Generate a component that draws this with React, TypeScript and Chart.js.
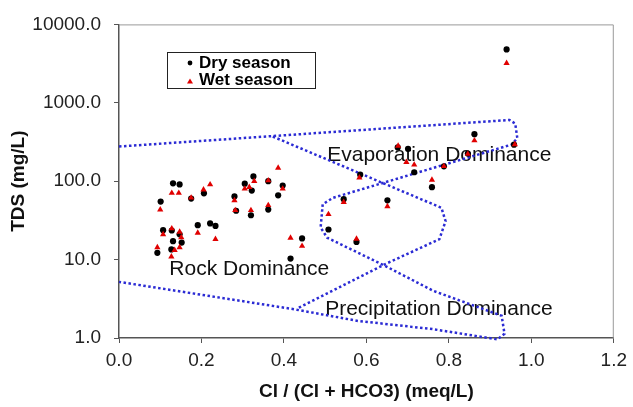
import React, { useEffect, useRef } from "react";
import { Chart, registerables } from "chart.js";

Chart.register(...registerables);

const FONT = "'Liberation Sans', Arial, Helvetica, sans-serif";

// Dry season samples: Cl/(Cl+HCO3) and TDS (mg/L)
const dryRatio = [0.093, 0.101, 0.107, 0.131, 0.147, 0.131, 0.127, 0.128, 0.147, 0.152, 0.175, 0.191, 0.206, 0.221, 0.234, 0.28, 0.284, 0.305, 0.32, 0.326, 0.322, 0.362, 0.362, 0.386, 0.397, 0.416, 0.444, 0.508, 0.545, 0.576, 0.585, 0.651, 0.676, 0.701, 0.716, 0.759, 0.788, 0.846, 0.862, 0.958, 0.94];
const dryTDS = [12.2, 55, 23.7, 94, 91, 17.2, 13.5, 23.5, 21, 16.5, 60, 27.5, 70, 28.9, 26.9, 64, 42, 93, 36.8, 115, 76, 100, 43.5, 66, 88, 10.3, 18.6, 24.2, 59, 16.8, 121, 57, 270, 259, 130, 84, 155, 225, 398, 292, 4800];

// Wet season samples
const wetRatio = [0.093, 0.1, 0.107, 0.128, 0.128, 0.145, 0.147, 0.151, 0.147, 0.135, 0.127, 0.175, 0.191, 0.205, 0.221, 0.234, 0.28, 0.282, 0.305, 0.316, 0.32, 0.328, 0.362, 0.362, 0.386, 0.397, 0.416, 0.444, 0.508, 0.545, 0.576, 0.583, 0.651, 0.677, 0.697, 0.716, 0.759, 0.788, 0.846, 0.862, 0.96, 0.94];
const wetTDS = [14.3, 43.4, 21, 24.9, 70.6, 70.6, 22.6, 19.2, 14.3, 13.2, 10.9, 61.5, 21.9, 78, 90.6, 18.2, 57, 42.6, 80, 84, 42.6, 100, 102, 49.3, 148, 80, 18.9, 14.9, 37.9, 54, 18.4, 111, 47.8, 282, 175, 162, 104, 155, 222, 330, 295, 3200];

// Gibbs boundary (outer envelope) and inner boundary
const outerX = [0, 0.947, 0.961, 0.966, 0.952, 0.519, 0.494, 0.489, 0.505, 0.646, 0.762, 0.928, 0.935, 0.918, 0.76, 0.58, 0.424, 0];
const outerY = [277, 604, 542, 354, 293, 61.4, 50.8, 25.6, 19.0, 8.28, 4.0, 1.92, 1.13, 0.96, 1.3, 1.65, 2.33, 5.2];
const innerX = [0.373, 0.782, 0.792, 0.777, 0.646, 0.431];
const innerY = [371, 45.8, 30.9, 18.2, 8.78, 2.36];

const yTicks = [1, 10, 100, 1000, 10000];
const xMin = 0;
const xMax = 1.2;
const xStep = 0.2;

const zoneLabels = ["Evaporation Dominance", "Rock Dominance", "Precipitation Dominance"];
const zoneLabelX = [0.505, 0.122, 0.5];
const zoneLabelY = [213, 7.5, 2.36];

const seriesNames = ["Dry season", "Wet season"];

const toPts = (xs: number[], ys: number[]) => xs.map((x, i) => ({ x, y: ys[i] }));

export default function App() {
  const ref = useRef<HTMLCanvasElement>(null);

  useEffect(() => {
    document.body.style.margin = "0";
    const canvas = ref.current!;

    const decor = {
      id: "decor",
      beforeDatasetsDraw(chart: any) {
        const { ctx, chartArea: a } = chart;
        ctx.save();
        ctx.strokeStyle = "#9a9a9a";
        ctx.lineWidth = 1;
        ctx.beginPath();
        ctx.moveTo(a.left, a.top + 0.5);
        ctx.lineTo(a.right - 0.5, a.top + 0.5);
        ctx.lineTo(a.right - 0.5, a.bottom);
        ctx.stroke();
        const xs = chart.scales.x;
        const ys = chart.scales.y;
        ctx.font = `21px ${FONT}`;
        ctx.fillStyle = "#111";
        ctx.textAlign = "left";
        ctx.textBaseline = "middle";
        zoneLabels.forEach((t, i) => {
          ctx.fillText(t, xs.getPixelForValue(zoneLabelX[i]), ys.getPixelForValue(zoneLabelY[i]));
        });
        ctx.restore();
      },
      afterDraw(chart: any) {
        const { ctx } = chart;
        ctx.save();
        // legend box
        ctx.fillStyle = "#fff";
        ctx.fillRect(167.5, 52.5, 148, 36);
        ctx.strokeStyle = "#222";
        ctx.lineWidth = 1;
        ctx.strokeRect(167.5, 52.5, 148, 36);
        // markers
        ctx.fillStyle = "#000";
        ctx.beginPath();
        ctx.arc(190, 63, 2.4, 0, Math.PI * 2);
        ctx.fill();
        ctx.fillStyle = "#e00000";
        ctx.beginPath();
        ctx.moveTo(190, 78.5);
        ctx.lineTo(193, 83.5);
        ctx.lineTo(187, 83.5);
        ctx.closePath();
        ctx.fill();
        ctx.fillStyle = "#000";
        ctx.font = `bold 17px ${FONT}`;
        ctx.textAlign = "left";
        ctx.textBaseline = "middle";
        ctx.fillText(seriesNames[0], 199, 63);
        ctx.fillText(seriesNames[1], 199, 80);
        ctx.restore();
      },
    };

    const lineStyle = {
      showLine: true,
      pointRadius: 0,
      borderColor: "#2b2bd4",
      borderWidth: 2.5,
      borderDash: [2.5, 2.5],
      fill: false,
      tension: 0,
      clip: false as any,
      order: 3,
    };

    const chart = new Chart(canvas, {
      type: "scatter",
      data: {
        datasets: [
          {
            label: seriesNames[1],
            data: toPts(wetRatio, wetTDS),
            pointStyle: "triangle",
            pointRadius: 3.6,
            backgroundColor: "#e00000",
            borderColor: "#e00000",
            borderWidth: 0,
            order: 1,
          },
          {
            label: seriesNames[0],
            data: toPts(dryRatio, dryTDS),
            pointStyle: "circle",
            pointRadius: 3.1,
            backgroundColor: "#000",
            borderColor: "#000",
            borderWidth: 0,
            order: 2,
          },
          { label: "outer", data: toPts(outerX, outerY), ...lineStyle } as any,
          { label: "inner", data: toPts(innerX, innerY), ...lineStyle } as any,
        ],
      },
      options: {
        responsive: false,
        animation: false,
        devicePixelRatio: 1,
        layout: { padding: { top: 23, right: 16, left: 0, bottom: 0 } },
        plugins: {
          legend: { display: false },
          tooltip: { enabled: false },
        },
        scales: {
          x: {
            type: "linear",
            min: xMin,
            max: xMax,
            afterFit: (s: any) => {
              s.height = 69;
            },
            ticks: {
              stepSize: xStep,
              color: "#222",
              font: { family: FONT, size: 19 },
              padding: 6,
              maxRotation: 0,
              callback: (v: any) => Number(v).toFixed(1),
            },
            grid: { drawOnChartArea: false, drawTicks: true, tickLength: 5, color: "#555" },
            border: { display: true, color: "#555", width: 1.5 },
            title: {
              display: true,
              text: "Cl / (Cl + HCO3) (meq/L)",
              color: "#111",
              font: { family: FONT, size: 19, weight: "bold" },
              padding: { top: 0, bottom: 4 },
            },
          },
          y: {
            type: "logarithmic",
            min: 1,
            max: 10000,
            afterFit: (s: any) => {
              s.width = 119;
            },
            afterBuildTicks: (s: any) => {
              s.ticks = yTicks.map((v) => ({ value: v }));
            },
            ticks: {
              color: "#222",
              font: { family: FONT, size: 19 },
              padding: 13,
              callback: (v: any) => Number(v).toFixed(1),
            },
            grid: { drawOnChartArea: false, drawTicks: true, tickLength: 5, color: "#555" },
            border: { display: true, color: "#555", width: 1.5 },
            title: {
              display: true,
              text: "TDS (mg/L)",
              color: "#111",
              font: { family: FONT, size: 19, weight: "bold" },
              padding: { top: 7, bottom: 0 },
            },
          },
        },
      },
      plugins: [decor],
    } as any);

    return () => chart.destroy();
  }, []);

  return <canvas ref={ref} width={633} height={407} style={{ display: "block" }} />;
}
